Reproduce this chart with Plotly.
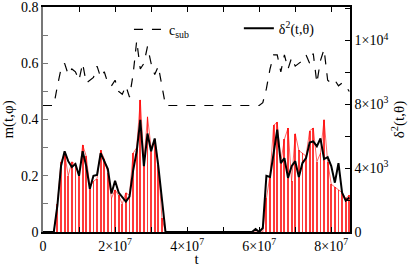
import plotly.graph_objects as go

# time grid (step 1e6)
t = [i * 1e6 for i in range(86)]

# m(t, phi) -- red impulses (left axis)
m_phi = [0, 0, 0, 0, 0.10, 0.25, 0.28, 0.20, 0.25, 0.24,
         0.20, 0.31, 0.27, 0.16, 0.18, 0.19, 0.29, 0.26, 0.21, 0.12,
         0.15, 0.13, 0.10, 0.14, 0.13, 0.28, 0.30, 0.47, 0.25, 0.41,
         0.30, 0.33, 0.24, 0.05, 0, 0, 0, 0, 0, 0,
         0, 0, 0, 0, 0, 0, 0, 0, 0, 0,
         0, 0, 0, 0, 0, 0, 0, 0, 0, 0,
         0, 0, 0.12, 0.20, 0.38, 0.39, 0.25, 0.33, 0.37, 0.18,
         0.35, 0.29, 0.28, 0.27, 0.36, 0.37, 0.25, 0.28, 0.40, 0.25,
         0.17, 0.16, 0.15, 0.14, 0.12, 0.13]

# c_sub -- dashed (left axis)
c_sub = [0.45, 0.45, 0.45, 0.45, 0.52, 0.58, 0.60, 0.56, 0.58, 0.57,
         0.54, 0.60, 0.53, 0.54, 0.55, 0.59, 0.55, 0.57, 0.53, 0.52,
         0.54, 0.50, 0.49, 0.52, 0.48, 0.56, 0.68, 0.58, 0.60, 0.66,
         0.60, 0.56, 0.59, 0.52, 0.45, 0.45, 0.45, 0.45, 0.45, 0.45,
         0.45, 0.45, 0.45, 0.45, 0.45, 0.45, 0.45, 0.45, 0.45, 0.45,
         0.45, 0.45, 0.45, 0.45, 0.45, 0.45, 0.45, 0.45, 0.45, 0.45,
         0.45, 0.46, 0.51, 0.58, 0.63, 0.63, 0.57, 0.63, 0.58, 0.62,
         0.59, 0.60, 0.61, 0.63, 0.60, 0.635, 0.53, 0.61, 0.65, 0.54,
         0.53, 0.54, 0.52, 0.53, 0.52, 0.50]

# delta^2(t, theta) -- black solid (right axis)
delta2 = [0, 0, 0, 0, 1670, 4130, 5060, 4440, 4070, 4260,
          3520, 5060, 4130, 2710, 3520, 3580, 4940, 4440, 3950, 2410,
          3210, 2470, 2220, 1910, 2220, 3830, 5060, 7030, 4130, 6170,
          5060, 5860, 4130, 1970, 0, 0, 0, 0, 0, 0,
          0, 0, 0, 0, 0, 0, 0, 0, 0, 0,
          0, 0, 0, 0, 0, 0, 0, 0, 0, 190,
          0, 250, 3520, 3450, 5060, 6420, 4320, 4630, 3390, 4130,
          4440, 3450, 4320, 4630, 5610, 5680, 5370, 5860, 4570, 4690,
          4130, 3090, 4320, 2470, 1970, 2160]

x_ticks = [0, 2e7, 4e7, 6e7, 8e7]
x_ticktext = ["0", "2×10<sup>7</sup>", "4×10<sup>7</sup>", "6×10<sup>7</sup>", "8×10<sup>7</sup>"]
y_ticks = [0, 0.2, 0.4, 0.6, 0.8]
y_ticktext = ["0", "0.2", "0.4", "0.6", "0.8"]
y2_ticks = [0, 4000, 8000, 12000]
y2_ticktext = ["0", "4×10<sup>3</sup>", "8×10<sup>3</sup>", "1×10<sup>4</sup>"]

FONT = "Liberation Serif, Times New Roman, serif"

fig = go.Figure()

fig.add_trace(go.Bar(
    x=t, y=m_phi, width=0.24e6, marker=dict(color="#ff3a3a", line=dict(width=0)),
    showlegend=False, yaxis="y"))
fig.add_trace(go.Scatter(
    x=t, y=m_phi, mode="lines", line=dict(color="rgba(255,0,0,0.6)", width=1),
    showlegend=False, yaxis="y"))
fig.add_trace(go.Scatter(
    x=t, y=c_sub, mode="lines", name="c<sub>sub</sub>", legend="legend",
    line=dict(color="black", width=1.2, dash="dash"), yaxis="y"))
fig.add_trace(go.Scatter(
    x=t, y=delta2, mode="lines", name="δ<sup>2</sup>(t,θ)", legend="legend2",
    line=dict(color="black", width=2), yaxis="y2"))

leg_common = dict(orientation="h", xanchor="left", yanchor="top",
                  bgcolor="rgba(0,0,0,0)", font=dict(size=14, family=FONT),
                  itemwidth=30)

fig.update_layout(
    width=415, height=267,
    margin=dict(l=43, r=65, t=7, b=35),
    paper_bgcolor="white", plot_bgcolor="white",
    font=dict(family=FONT, size=14, color="black"),
    bargap=0,
    showlegend=True,
    legend=dict(x=0.28, y=0.97, **leg_common),
    legend2=dict(x=0.638, y=0.975, **leg_common),
    xaxis=dict(range=[0, 8.52e7], tickvals=x_ticks, ticktext=x_ticktext,
               ticks="inside", ticklen=5, tickcolor="black",
               minor=dict(dtick=1e7, tick0=0, ticks="inside", ticklen=5, tickcolor="black"),
               showline=True, linecolor="black", linewidth=1.5, mirror="ticks",
               showgrid=False, zeroline=False, automargin=False,
               ticklabeloverflow="allow",
               title=dict(text="t", standoff=8, font=dict(size=15))),
    yaxis=dict(range=[0, 0.8005], tickvals=y_ticks, ticktext=y_ticktext,
               ticks="inside", ticklen=5, tickcolor="#777",
               minor=dict(dtick=0.1, tick0=0, ticks="inside", ticklen=5, tickcolor="#777"),
               showline=True, linecolor="#777", linewidth=1.5,
               showgrid=False, zeroline=False, automargin=False,
               ticklabeloverflow="allow",
               title=dict(text="m(t,φ)", standoff=4, font=dict(size=15))),
    yaxis2=dict(range=[0, 14100], overlaying="y", side="right",
                tickvals=y2_ticks, ticktext=y2_ticktext,
                ticks="inside", ticklen=5, tickcolor="black",
                minor=dict(dtick=2000, tick0=0, ticks="inside", ticklen=5, tickcolor="black"),
                showline=True, linecolor="black", linewidth=1.5,
                showgrid=False, zeroline=False, automargin=False,
                ticklabeloverflow="allow",
                title=dict(text="δ<sup>2</sup>(t,θ)", standoff=6, font=dict(size=15))),
)

fig.write_html("out.html", config={"displayModeBar": False},
               post_script="document.body.style.margin='0';document.body.style.padding='0';")
